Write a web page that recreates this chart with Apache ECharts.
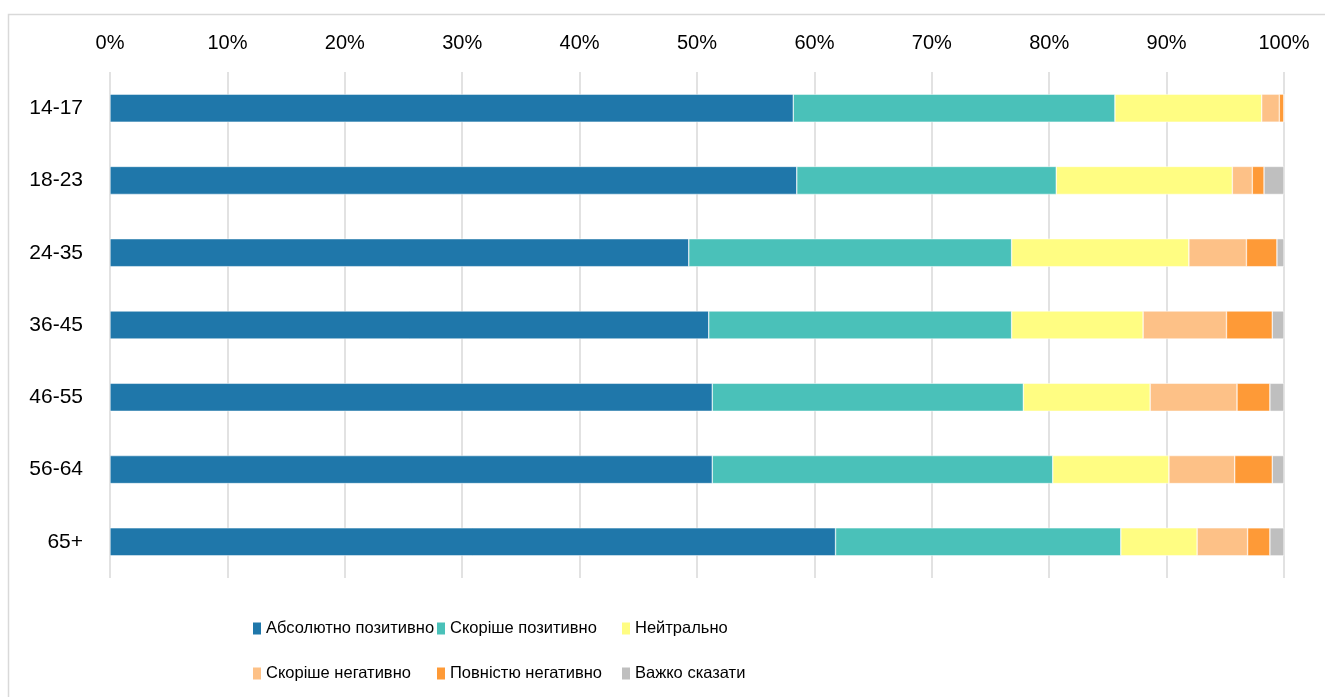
<!DOCTYPE html>
<html>
<head>
<meta charset="utf-8">
<script src="https://cdn.jsdelivr.net/npm/echarts@6/dist/echarts.min.js"></script>
<style>
html,body{margin:0;padding:0;background:#fff;}
#chart{width:1325px;height:697px;}
</style>
</head>
<body>
<div id="chart"></div>
<script>
const categories = ['14-17', '18-23', '24-35', '36-45', '46-55', '56-64', '65+'];
const seriesNames = ['Абсолютно позитивно', 'Скоріше позитивно', 'Нейтрально', 'Скоріше негативно', 'Повністю негативно', 'Важко сказати'];
const absPositive = [58.2, 58.5, 49.3, 51.0, 51.3, 51.3, 61.8];
const ratherPositive = [27.4, 22.1, 27.5, 25.8, 26.5, 29.0, 24.3];
const neutral = [12.5, 15.0, 15.1, 11.2, 10.8, 9.9, 6.5];
const ratherNegative = [1.5, 1.7, 4.9, 7.1, 7.4, 5.6, 4.3];
const fullyNegative = [0.4, 1.0, 2.6, 3.9, 2.8, 3.2, 1.9];
const hardToSay = [0.0, 1.7, 0.6, 1.0, 1.2, 1.0, 1.2];
const xTicks = [0, 10, 20, 30, 40, 50, 60, 70, 80, 90, 100];

const seriesData = [absPositive, ratherPositive, neutral, ratherNegative, fullyNegative, hardToSay];
const colors = ['#1F77AA', '#4AC1B9', '#FFFD82', '#FDC187', '#FE9A37', '#BFBFBF'];
const FONT = "'Liberation Sans', Arial, sans-serif";

const legendPos = [
  {left: 251, top: 620}, {left: 435, top: 620}, {left: 620, top: 620},
  {left: 251, top: 665}, {left: 435, top: 665}, {left: 620, top: 665}
];

const chart = echarts.init(document.getElementById('chart'), null, {renderer: 'canvas'});
chart.setOption({
  animation: false,
  color: colors,
  graphic: [{
    type: 'rect', silent: true, z: -10,
    shape: {x: 8.5, y: 14.5, width: 1400, height: 800},
    style: {fill: '#fff', stroke: '#D9D9D9', lineWidth: 1.5}
  }],
  grid: {left: 110, right: 41, top: 72, bottom: 119},
  xAxis: {
    type: 'value', position: 'top', min: 0, max: 100, interval: 10,
    axisLine: {show: false}, axisTick: {show: false},
    axisLabel: {formatter: v => xTicks.includes(v) ? v + '%' : '', color: '#000', fontSize: 20, fontFamily: FONT, margin: 19},
    splitLine: {show: true, lineStyle: {color: '#D9D9D9', width: 1.5}}
  },
  yAxis: {
    type: 'category', data: categories, inverse: true,
    axisLine: {show: false}, axisTick: {show: false},
    axisLabel: {color: '#000', fontSize: 21, fontFamily: FONT, margin: 27}
  },
  legend: seriesNames.map((n, i) => ({
    data: [n], left: legendPos[i].left, top: legendPos[i].top,
    icon: 'rect', itemWidth: 10, itemHeight: 14, itemGap: 4,
    textStyle: {color: '#000', fontSize: 16.5, fontFamily: FONT, padding: [0, 0, 0, -1]},
    selectedMode: false, padding: 0
  })),
  series: seriesNames.map((n, i) => ({
    name: n, type: 'bar', stack: 'total', data: seriesData[i], barWidth: 28,
    itemStyle: {color: colors[i], borderColor: '#fff', borderWidth: 0.5}
  }))
});
</script>
</body>
</html>
